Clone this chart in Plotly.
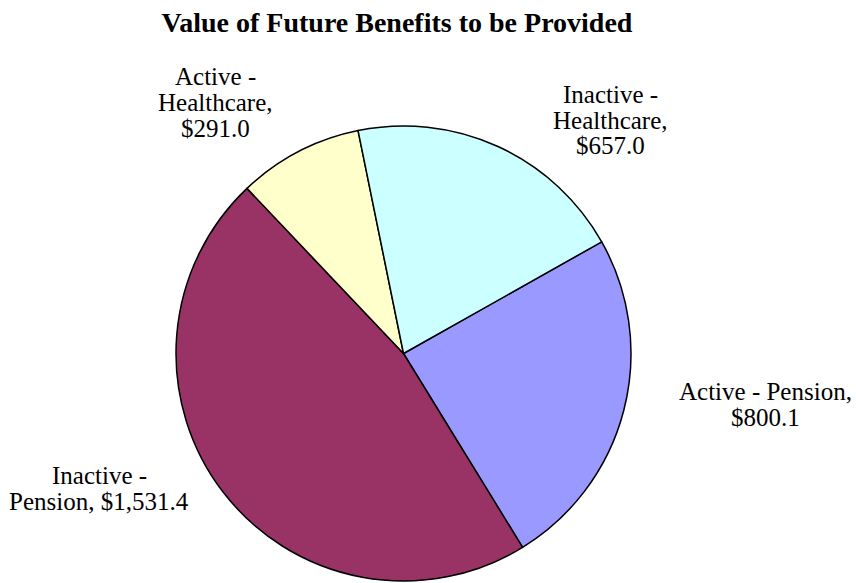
import plotly.graph_objects as go

labels = ["Active - Pension", "Inactive - Pension", "Active - Healthcare", "Inactive - Healthcare"]
values = [800.1, 1531.4, 291.0, 657.0]
colors = ["#9999FF", "#993366", "#FFFFCC", "#CCFFFF"]
label_lines = [["Active - Pension,", "$800.1"],
               ["Inactive -", "Pension, $1,531.4"],
               ["Active -", "Healthcare,", "$291.0"],
               ["Inactive -", "Healthcare,", "$657.0"]]
label_pos = [(765, 391), (99, 475), (215, 77), (610, 94)]
LINE_H = 26

W, H = 856, 583
cx, cy, r = 403.5, 353.5, 227.5
FONT = "Liberation Serif"

fig = go.Figure(go.Pie(
    labels=labels, values=values, sort=False, direction="clockwise", rotation=60.6,
    marker=dict(colors=colors, line=dict(color="black", width=1.5)),
    textinfo="none", hoverinfo="label+value", showlegend=False,
    domain=dict(x=[(cx - r) / W, (cx + r) / W], y=[(H - cy - r) / H, (H - cy + r) / H]),
))

for lines, (x, y) in zip(label_lines, label_pos):
    for i, t in enumerate(lines):
        fig.add_annotation(x=x / W, y=1 - (y + i * LINE_H) / H, xref="paper", yref="paper", text=t,
                           showarrow=False, align="center", xanchor="center", yanchor="middle",
                           font=dict(family=FONT, size=25, color="black"))

fig.update_layout(
    width=W, height=H, margin=dict(l=0, r=0, t=0, b=0),
    paper_bgcolor="white", plot_bgcolor="white",
    font=dict(family=FONT, color="black"),
    title=dict(text="<b>Value of Future Benefits to be Provided</b>", x=397 / W, xanchor="center",
               y=1 - 22 / H, yanchor="middle",
               font=dict(family=FONT, size=28, color="black")),
)

fig.write_html("out.html")
